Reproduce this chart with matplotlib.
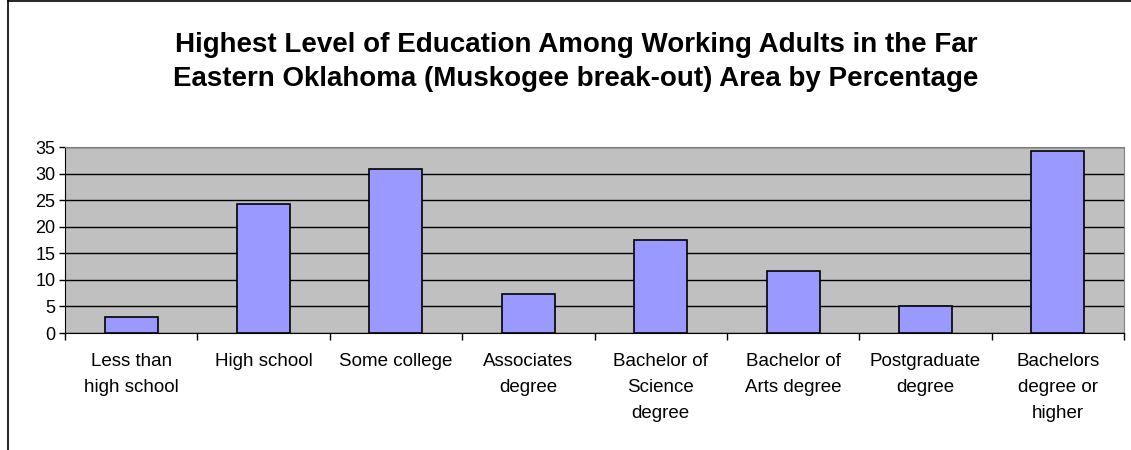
import matplotlib.pyplot as plt
from matplotlib.lines import Line2D
import numpy as np

plt.rcParams['font.family'] = ['Liberation Sans', 'DejaVu Sans']

categories = ["Less than\nhigh school", "High school", "Some college",
              "Associates\ndegree", "Bachelor of\nScience\ndegree",
              "Bachelor of\nArts degree", "Postgraduate\ndegree",
              "Bachelors\ndegree or\nhigher"]
values = [3.0, 24.2, 30.9, 7.4, 17.5, 11.7, 5.0, 34.3]
yticks = [0, 5, 10, 15, 20, 25, 30, 35]

fig = plt.figure(figsize=(11.31, 4.5), dpi=100)
ax = fig.add_axes([65 / 1131, 1 - 333 / 450, 1059 / 1131, 186 / 450])

x = np.arange(len(categories))
ax.set_facecolor("#C0C0C0")
ax.bar(x, values, width=0.4, color="#9999FF", edgecolor="black", linewidth=1.2, zorder=3)

ax.set_xlim(-0.5, len(categories) - 0.5)
ax.set_ylim(0, 35)
ax.set_yticks(yticks)
ax.tick_params(axis="y", labelsize=13, length=4, width=1, color="black", pad=3)
ax.yaxis.grid(True, color="black", linewidth=1)
ax.set_axisbelow(True)

# category labels between boundary ticks
ax.set_xticks(np.arange(len(categories) + 1) - 0.5)
ax.set_xticklabels([])
ax.tick_params(axis="x", length=5, width=1, color="black")
for xi, lab in zip(x, categories):
    ax.text(xi, -0.105, lab, transform=ax.get_xaxis_transform(), ha="center", va="top",
            fontsize=13.5, linespacing=1.72)

for side in ["top", "right"]:
    ax.spines[side].set_color("#808080")
ax.spines["left"].set_color("black")
ax.spines["bottom"].set_color("black")

fig.text(576 / 1131, 1 - 62 / 450,
         "Highest Level of Education Among Working Adults in the Far\n"
         "Eastern Oklahoma (Muskogee break-out) Area by Percentage",
         ha="center", va="center", fontsize=20, fontweight="bold", linespacing=1.4)

# chart area border
fig.add_artist(Line2D([8 / 1131, 8 / 1131], [0, 1 - 1 / 450], color="black", linewidth=1.2))
fig.add_artist(Line2D([8 / 1131, 1], [1 - 1 / 450, 1 - 1 / 450], color="black", linewidth=1.2))

fig.savefig("out.png", dpi=100)
